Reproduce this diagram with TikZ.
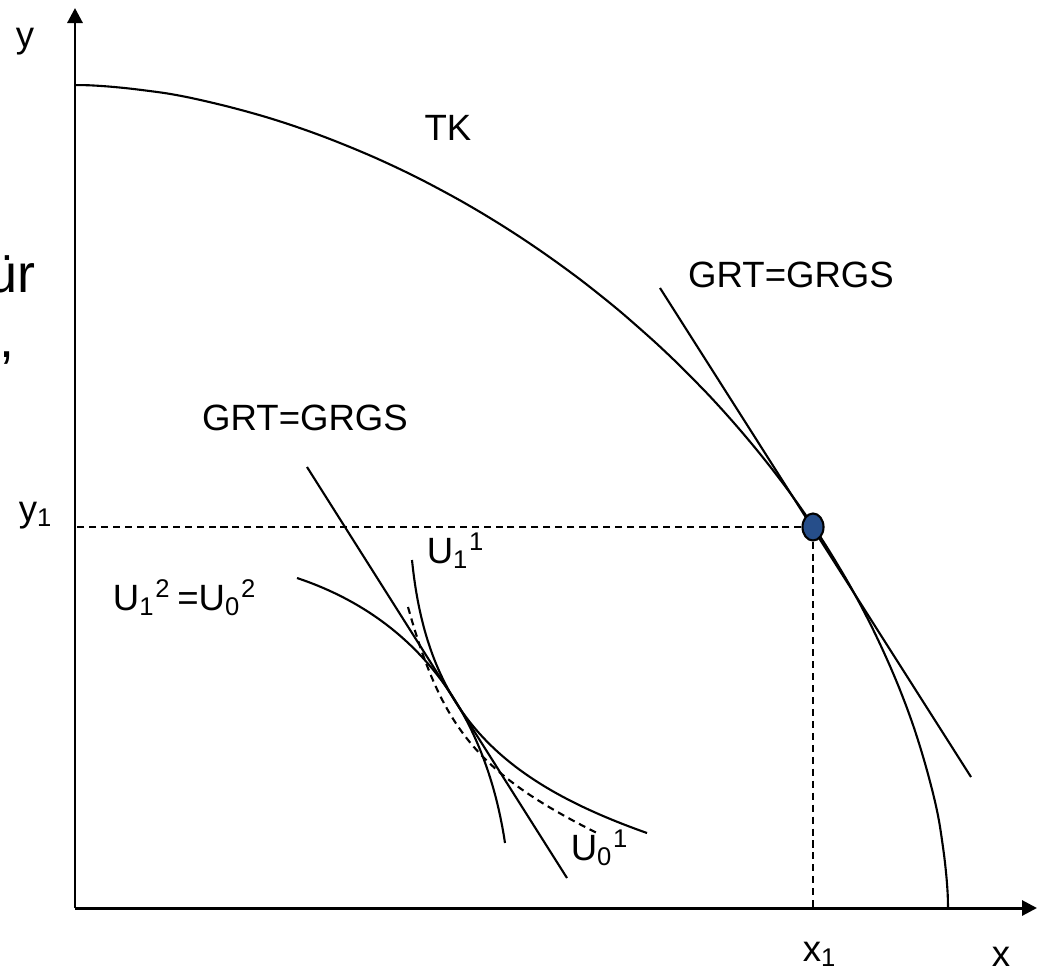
\documentclass[tikz,border=0pt]{standalone}
\usepackage{fontspec}
\setmainfont{Liberation Sans}
\usetikzlibrary{arrows.meta,positioning,calc,shapes.geometric}
\definecolor{dotblue}{RGB}{38,78,138}

\begin{document}
\begin{tikzpicture}[x=0.01cm,y=-0.01cm,>={Triangle[length=1.5mm,width=1.5mm]},
 axis/.style={line width=0.85pt},
 curve/.style={line width=0.6pt},
 guide/.style={line width=0.6pt,dash pattern=on 2pt off 1.4pt},
 lab/.style={inner sep=0pt,anchor=base,font=\fontsize{10.4}{12}\selectfont}]
 \useasboundingbox (0,0) rectangle (1037,970);
 \coordinate (o) at (75,908);
 \coordinate (xend) at (1037,908);
 \coordinate (yend) at (75,8);
 \draw[->,axis] (o)--(xend);
 \draw[->,axis] (o)--(yend);
 \draw[curve] plot[smooth,domain=0:90,samples=60,variable=\t]
  ({75+873*pow(abs(cos(\t)),1.13)},{908-823*pow(abs(sin(\t)),1.13)});
 \coordinate (ta) at (660,288);
 \coordinate (tb) at (971,777);
 \draw[curve] (ta)--(tb);
 \coordinate (sa) at (307,467);
 \coordinate (sb) at (567,878);
 \draw[curve] (sa)--(sb);
 \coordinate (ua) at (412,560);
 \coordinate (ub) at (647,833);
 \draw[curve] (ua) .. controls (427,710) and (497,780) .. (ub);
 \coordinate (va) at (297,578);
 \coordinate (vb) at (505,843);
 \draw[curve] (va) .. controls (417,618) and (485.5,713) .. (vb);
 \coordinate (wa) at (408,607);
 \coordinate (wb) at (597,833);
 \draw[guide] (wa) .. controls (441.6,727) and (477,773) .. (wb);
 \node[ellipse,draw,fill=dotblue,minimum width=0.21cm,minimum height=0.27cm,inner sep=0pt,line width=0.6pt] (pt) at (813,527) {};
 \draw[guide] (pt.west)--(pt.west -| o);
 \draw[guide] (pt.south)--(pt.south |- o);
 \node[lab] (ylab) at (25,48) {y};
 \node[lab] (xlab) at (1001,966) {x};
 \node[lab] (y1) at (36,521) {y\textsubscript{1}};
 \node[lab] (x1) at (820,961) {x\textsubscript{1}};
 \node[lab] (tk) at (448,140) {TK};
 \node[lab] (grt1) at (791,287) {GRT=GRGS};
 \node[lab] (grt2) at (305,430) {GRT=GRGS};
 \node[lab] (u11) at (456,563) {U\textsubscript{1}\textsuperscript{1}};
 \node[lab] (u12) at (185,610) {U\textsubscript{1}\textsuperscript{2}\,=U\textsubscript{0}\textsuperscript{2}};
 \node[lab] (u01) at (600,860) {U\textsubscript{0}\textsuperscript{1}};
 \node[lab,anchor=base east,font=\fontsize{15.3}{18}\selectfont] (fuer) at (36,292) {für};
 \node[lab,anchor=base west,font=\fontsize{15.3}{18}\selectfont] (komma) at (-1,357) {,};
\end{tikzpicture}
\end{document}
